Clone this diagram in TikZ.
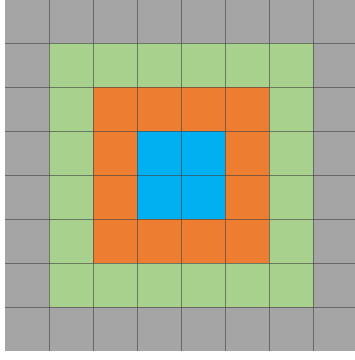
\documentclass[tikz,border=0pt]{standalone}
\usepackage{tikz}

\definecolor{cellgray}{HTML}{A5A5A5}
\definecolor{cellgreen}{HTML}{A9D18E}
\definecolor{cellorange}{HTML}{ED7D31}
\definecolor{cellblue}{HTML}{00B0F0}

\begin{document}
\begin{tikzpicture}[
    x=1pt, y=-1pt,
    ring/.style={draw=none},
    gridline/.style={draw=black!75, line width=0.9pt, opacity=0.6}
  ]
    \useasboundingbox (0,0) rectangle (355,360);
    \clip (0,0) rectangle (355,360);
    % rings from outside in
    \fill[ring, fill=cellgray] (5,-1) rectangle (357,351);
    \fill[ring, fill=cellgreen] (49,43) rectangle (313,307);
    \fill[ring, fill=cellorange] (93,87) rectangle (269,263);
    \fill[ring, fill=cellblue] (137,131) rectangle (225,219);
    % cell borders
    \foreach \k in {1,...,7} {
      \draw[gridline] (5+44*\k,-1) -- (5+44*\k,351);
      \draw[gridline] (5,-1+44*\k) -- (357,-1+44*\k);
    }
  \end{tikzpicture}
\end{document}
